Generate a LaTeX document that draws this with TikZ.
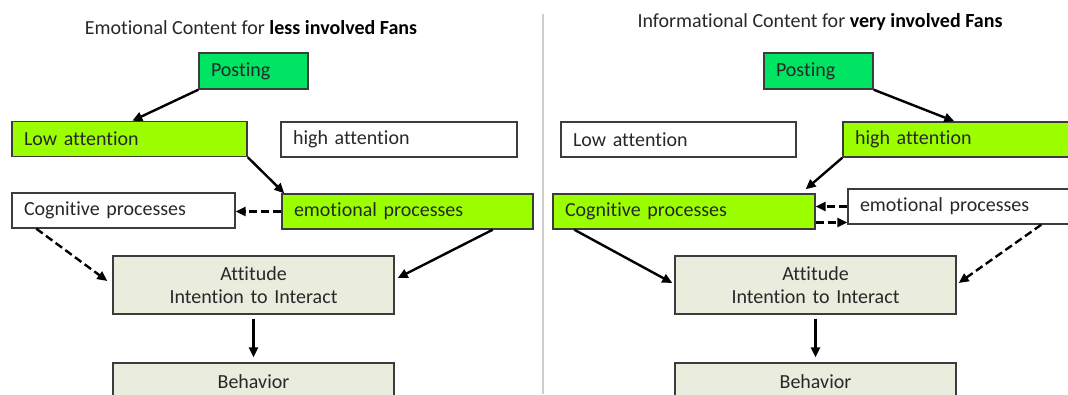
\documentclass[tikz,border=0pt]{standalone}
\usepackage{fontspec}
\setmainfont{Carlito}[Ligatures=NoCommon]
\usetikzlibrary{arrows.meta}
\definecolor{postgreen}{RGB}{0,228,100}
\definecolor{lime}{RGB}{155,255,0}
\definecolor{beige}{RGB}{234,236,222}
\definecolor{edge}{RGB}{60,60,60}
\definecolor{txt}{RGB}{40,40,40}
\definecolor{divider}{RGB}{205,205,205}
\tikzset{
  box/.style={draw=edge, line width=1.4pt, rectangle, inner xsep=12pt, inner ysep=0pt,
    font=\fontsize{20pt}{23pt}\selectfont, text=txt, anchor=center},
  lbox/.style={box, align=left},
  cbox/.style={box, align=center, fill=beige},
  sel1/.style={fill=postgreen},
  sel2/.style={fill=lime},
  plain/.style={fill=white},
  conn/.style={line width=2.4pt, -{Triangle[length=10pt,width=9pt]}},
  dconn/.style={conn, dash pattern=on 8pt off 4pt},
  ttl/.style={font=\fontsize{20pt}{23pt}\selectfont, text=txt, anchor=center}
}
\begin{document}
\begin{tikzpicture}[x=1pt,y=-1pt]
\useasboundingbox (0,0) rectangle (1068,394);
\clip (0,0) rectangle (1068,394);
\fill[white] (0,0) rectangle (1068,394);
% divider
\draw[divider, line width=2pt] (543,14) -- (543,394);
% titles
\node[ttl] (tl) at (251,28) {Emotional Content for \textcolor{black}{\bfseries less involved Fans}};
\node[ttl] (tr) at (820,22) {Informational Content for \textcolor{black}{\bfseries very involved Fans}};
% left panel
\node[lbox, sel1, text width=85pt, minimum height=36pt] (postL) at (253.5,71) {Posting};
\node[lbox, sel2, text width=211pt, minimum height=35pt] (lowL) at (129.5,139) {Low attention};
\node[lbox, plain, text width=212pt, minimum height=35pt] (highL) at (399,139.5) {high attention};
\node[lbox, plain, text width=199pt, minimum height=35pt] (cogL) at (123.5,210.5) {Cognitive processes};
\node[lbox, sel2, text width=227pt, minimum height=35pt] (emL) at (407.5,211.5) {emotional processes};
\node[cbox, text width=257pt, minimum height=58pt] (attL) at (253.5,285) {Attitude\\Intention to Interact};
\node[cbox, text width=257pt, minimum height=38pt] (behL) at (253.5,382) {Behavior};
% right panel
\node[lbox, sel1, text width=85pt, minimum height=36pt] (postR) at (818.5,71) {Posting};
\node[lbox, plain, text width=211pt, minimum height=35pt] (lowR) at (678.5,139.5) {Low attention};
\node[lbox, sel2, text width=213pt, minimum height=35pt] (highR) at (961.5,139.5) {high attention};
\node[lbox, sel2, text width=238pt, minimum height=35pt] (cogR) at (684,211.5) {Cognitive processes};
\node[lbox, plain, text width=213pt, minimum height=35pt] (emR) at (966.5,206.5) {emotional processes};
\node[cbox, text width=257pt, minimum height=58pt] (attR) at (815.5,285) {Attitude\\Intention to Interact};
\node[cbox, text width=257pt, minimum height=38pt] (behR) at (815.5,382) {Behavior};
% left connectors
\draw[conn] (postL.south west) -- ([xshift=121pt]lowL.north west);
\draw[conn] (lowL.south east) -- ([xshift=3pt]emL.north west);
\draw[dconn] (emL.west) -- (emL.west -| cogL.east);
\draw[dconn] ([xshift=25pt]cogL.south west) -- ([xshift=-5pt,yshift=4pt]attL.west);
\draw[conn] ([xshift=-41pt]emL.south east) -- ([xshift=3pt,yshift=7pt]attL.east);
\draw[conn] ([yshift=-4pt]attL.south) -- ([yshift=5pt]behL.north);
% right connectors
\draw[conn] (postR.south east) -- ([xshift=112pt]highR.north west);
\draw[conn] (highR.south west) -- ([xshift=-10pt,yshift=4pt]cogR.north east);
\draw[dconn] (emR.west) -- (emR.west -| cogR.east);
\draw[dconn] ([yshift=-11pt]cogR.east) -- ([yshift=-11pt]cogR.east -| emR.west);
\draw[conn] ([xshift=22pt]cogR.south west) -- ([xshift=-2pt,yshift=2pt]attR.west);
\draw[dconn] ([xshift=194pt]emR.south west) -- ([xshift=2pt,yshift=2pt]attR.east);
\draw[conn] ([yshift=-4pt]attR.south) -- ([yshift=5pt]behR.north);
\end{tikzpicture}
\end{document}
